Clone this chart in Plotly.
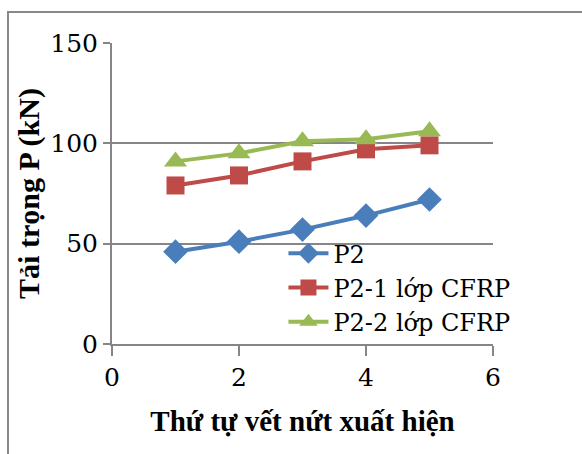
import plotly.graph_objects as go

x_vals = [1, 2, 3, 4, 5]
p2 = [46, 51, 57, 64, 72]
p2_1 = [79, 84, 91, 97, 99]
p2_2 = [91, 95, 101, 102, 106]
names = ["P2", "P2-1 lớp CFRP", "P2-2 lớp CFRP"]
colors = ["#4A7EBB", "#BE4B48", "#98B954"]
symbols = ["diamond", "square", "triangle-up"]
sizes = [19, 18, 20]

fig = go.Figure()
for ys, n, c, s, sz in zip([p2, p2_1, p2_2], names, colors, symbols, sizes):
    fig.add_trace(go.Scatter(x=x_vals, y=ys, name=n, mode="lines+markers",
                             line=dict(color=c, width=4),
                             marker=dict(symbol=s, size=sz, color=c)))

bold_font = "Liberation Serif"
reg_font = "DejaVu Serif"
fig.update_layout(
    width=582, height=454,
    margin=dict(l=112, r=89, t=43, b=110),
    paper_bgcolor="white", plot_bgcolor="white",
    font=dict(family=reg_font, size=24, color="black"),
    showlegend=True,
    legend=dict(x=0.45, y=0.375, xanchor="left", yanchor="top",
                bgcolor="rgba(0,0,0,0)", font=dict(size=24, family=reg_font, color="black"),
                tracegroupgap=0, itemwidth=40),
    xaxis=dict(range=[0, 6], tickvals=[0, 2, 4, 6], showgrid=False,
               tickfont=dict(family=reg_font, size=25, color="black"),
               showline=True, linecolor="#868686", linewidth=2,
               ticks="outside", ticklen=10, tickcolor="#868686", tickwidth=2,
               zeroline=False,
               title=dict(text="Thứ tự vết nứt xuất hiện", font=dict(family=bold_font, size=29, color="black", weight="bold"), standoff=20)),
    yaxis=dict(range=[0, 150], tickvals=[0, 50, 100, 150], showgrid=True,
               tickfont=dict(family=reg_font, size=25, color="black"),
               gridcolor="#868686", gridwidth=2,
               showline=True, linecolor="#868686", linewidth=2,
               ticks="outside", ticklen=7, tickcolor="#868686", tickwidth=2,
               zeroline=False,
               title=dict(text="Tải trọng P (kN)", font=dict(family=bold_font, size=30, color="black", weight="bold"), standoff=2)),
    shapes=[dict(type="rect", xref="paper", yref="paper",
                 x0=-0.273, x1=1.3, y0=-0.5, y1=1.103,
                 line=dict(color="#888888", width=2), layer="below")],
)
fig.write_html("out.html")
